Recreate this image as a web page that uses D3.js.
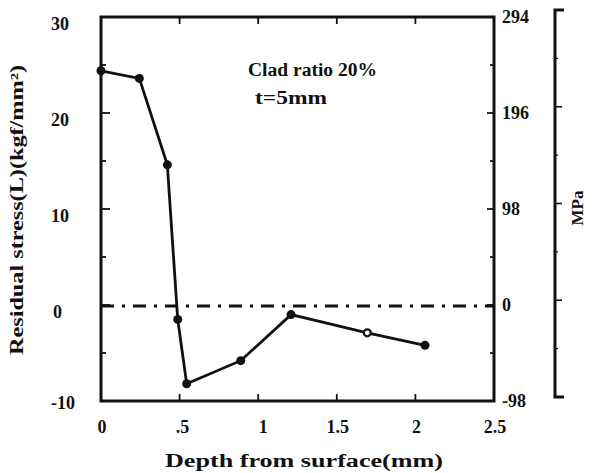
<!DOCTYPE html>
<html><head><meta charset="utf-8">
<script src="https://cdn.jsdelivr.net/npm/d3@7"></script>
<style>body{margin:0;background:#fff}svg{display:block}text{font-family:"Liberation Serif","DejaVu Serif",serif;font-weight:bold;fill:#111}</style>
</head><body><svg id="c" width="593" height="473"></svg>
<script>
// data
const depth  = [0, 0.244, 0.422, 0.488, 0.545, 0.889, 1.209, 1.694, 2.061];
const stress = [24.4, 23.6, 14.6, -1.5, -8.2, -5.8, -1.0, -2.9, -4.2];
const openPoint = [false,false,false,false,false,false,false,true,false];
const xTicks = [0, 0.5, 1, 1.5, 2, 2.5];
const xTickLabels = ["0", ".5", "1", "1.5", "2", "2.5"];
const yTicks = [-10, 0, 10, 20, 30];
const yMinor = [-5, 5, 15, 25];
const mpaTicks = [-98, 0, 98, 196, 294];
const mpaMinor = [-49, 49, 147, 245];
const farMajor = [0, 98, 196];
const farMinor = [-49, 49, 147, 245];

const svg = d3.select("#c");
const L = 101, R = 494, T = 17, B = 401;
const x = d3.scaleLinear().domain([0, 2.5]).range([L, R]);
const y = d3.scaleLinear().domain([-10, 30]).range([B, T]);
const y2 = d3.scaleLinear().domain([-98, 294]).range([B, T]);
const y3 = d3.scaleLinear().domain([-98, 294]).range([397, 10]);

const ink = "#111";
// frame
svg.append("rect").attr("x", L).attr("y", T).attr("width", R - L).attr("height", B - T)
  .attr("fill", "none").attr("stroke", ink).attr("stroke-width", 3);

// left axis ticks
const g = svg.append("g").attr("stroke", ink).attr("stroke-width", 1.8);
yTicks.forEach(v => g.append("line").attr("x1", L).attr("x2", L + 9).attr("y1", y(v)).attr("y2", y(v)));
yMinor.forEach(v => g.append("line").attr("x1", L).attr("x2", L + 5).attr("y1", y(v)).attr("y2", y(v)));
// right axis ticks
mpaTicks.forEach(v => g.append("line").attr("x1", R).attr("x2", R - 7).attr("y1", y2(v)).attr("y2", y2(v)));
mpaMinor.forEach(v => g.append("line").attr("x1", R).attr("x2", R - 4).attr("y1", y2(v)).attr("y2", y2(v)));
// bottom & top ticks
xTicks.slice(1, -1).forEach(v => {
  g.append("line").attr("x1", x(v)).attr("x2", x(v)).attr("y1", B).attr("y2", B - 7);
  g.append("line").attr("x1", x(v)).attr("x2", x(v)).attr("y1", T).attr("y2", T + 7);
});

// tick labels
svg.append("g").selectAll("text").data(yTicks).join("text")
  .attr("x", d => d === 0 ? 53 : 51).attr("y", d => Math.min(y(d) + 13, 409)).attr("text-anchor", "start")
  .attr("font-size", 18).text(d => d);
svg.append("g").selectAll("text").data(mpaTicks).join("text")
  .attr("x", 502).attr("y", d => y2(d) + 6).attr("text-anchor", "start")
  .attr("font-size", 18).text(d => d);
svg.append("g").selectAll("text").data(xTicks).join("text")
  .attr("x", (d, i) => x(d) + (i === 1 ? 3 : i === 2 ? 5 : 1)).attr("y", 433).attr("text-anchor", "middle")
  .attr("font-size", 18).text((d, i) => xTickLabels[i]);

// far right MPa bracket axis
const fg = svg.append("g").attr("stroke", ink).attr("fill", "none");
fg.append("path").attr("stroke-width", 3)
  .attr("d", `M${564},${y3(294)}H${555}V${y3(-98)}H${564}`);
farMajor.forEach(v => fg.append("line").attr("stroke-width", 1.6).attr("x1", 555).attr("x2", 562).attr("y1", y3(v)).attr("y2", y3(v)));
farMinor.forEach(v => fg.append("line").attr("stroke-width", 1.2).attr("x1", 555).attr("x2", 558).attr("y1", y3(v)).attr("y2", y3(v)));

// zero dash-dot line
svg.append("line").attr("x1", L).attr("x2", R).attr("y1", y(0) + 1).attr("y2", y(0) + 1)
  .attr("stroke", ink).attr("stroke-width", 3).attr("stroke-dasharray", "13,8,3,8");

// data line
svg.append("path").datum(depth.map((d, i) => [d, stress[i]]))
  .attr("d", d3.line().x(d => x(d[0])).y(d => y(d[1])))
  .attr("fill", "none").attr("stroke", ink).attr("stroke-width", 2.8);
svg.append("g").selectAll("circle").data(depth).join("circle")
  .attr("cx", d => x(d)).attr("cy", (d, i) => y(stress[i]))
  .attr("r", (d, i) => openPoint[i] ? 3.5 : 4.5)
  .attr("fill", (d, i) => openPoint[i] ? "#fff" : ink)
  .attr("stroke", ink).attr("stroke-width", (d, i) => openPoint[i] ? 2.2 : 0);

// annotations
svg.append("text").attr("x", 248).attr("y", 76).attr("font-size", 18).attr("textLength", 129).attr("lengthAdjust", "spacingAndGlyphs").text("Clad ratio  20%");
svg.append("text").attr("x", 255).attr("y", 104).attr("font-size", 18).attr("textLength", 72).attr("lengthAdjust", "spacingAndGlyphs").text("t=5mm");

// axis titles
svg.append("text").attr("x", 304).attr("y", 467).attr("text-anchor", "middle").attr("font-size", 18)
  .attr("textLength", 278).attr("lengthAdjust", "spacingAndGlyphs").text("Depth from surface(mm)");
svg.append("text").attr("transform", "translate(23,210) rotate(-90)").attr("text-anchor", "middle").attr("font-size", 18)
  .attr("textLength", 290).attr("lengthAdjust", "spacingAndGlyphs").text("Residual stress(L)(kgf/mm²)");
svg.append("text").attr("transform", "translate(583,208) rotate(-90)").attr("text-anchor", "middle").attr("font-size", 17)
  .text("MPa");
</script></body></html>
